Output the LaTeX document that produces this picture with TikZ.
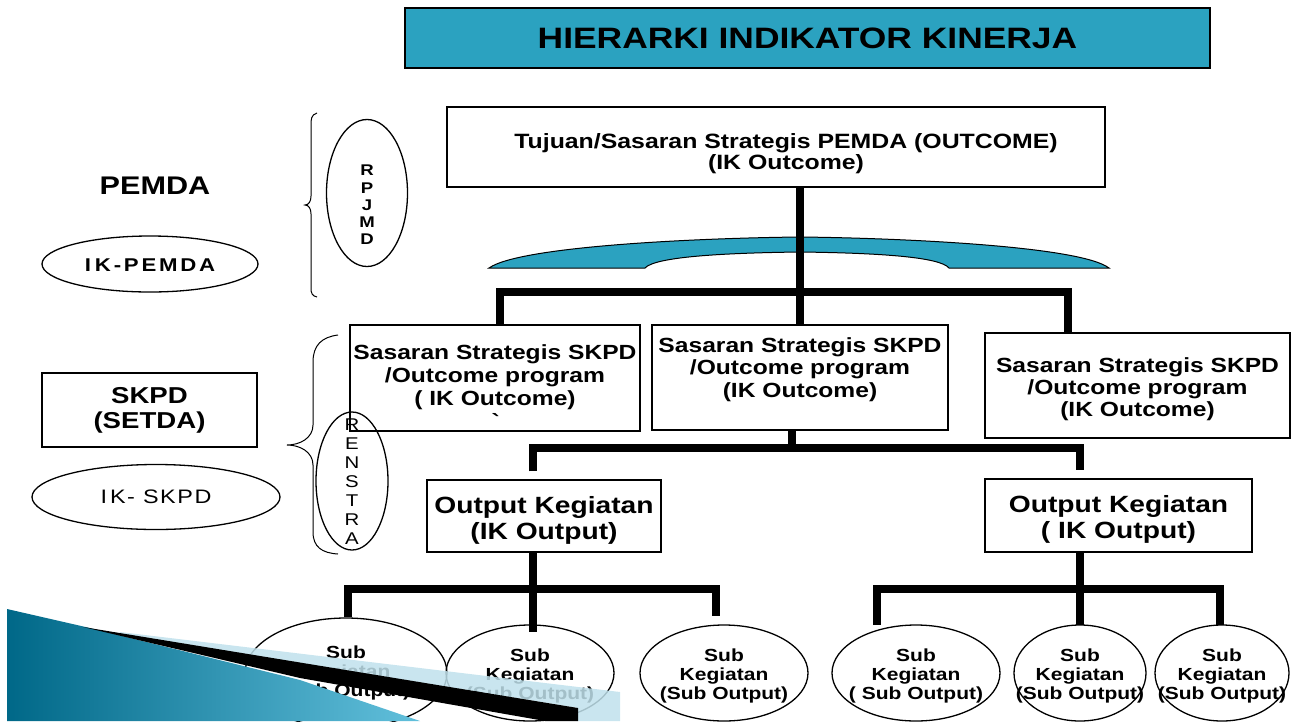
\documentclass[tikz,border=0pt]{standalone}
\usepackage{fontspec}
\setmainfont{Liberation Sans}[FakeStretch=1.2]
\usetikzlibrary{positioning,shapes.geometric}

\definecolor{birujudul}{RGB}{43,162,192}
\definecolor{birutua}{RGB}{0,104,136}
\definecolor{birumuda}{RGB}{98,192,220}
\definecolor{birupucat}{RGB}{192,225,236}

\newcommand{\huruf}[2]{\fontsize{#1}{#2}\selectfont}

\tikzset{
  kotak/.style={draw, rectangle, line width=1.3pt, inner sep=0pt, align=center},
  lonjong/.style={draw, ellipse, line width=1.3pt, inner sep=0pt},
  teks/.style={align=center, inner sep=0pt},
  garis/.style={line width=8pt},
  subkeg/.style 2 args={lonjong, minimum width=#1, minimum height=96,
    label={[teks, font=\bfseries\huruf{17.5}{19}, yshift=-3pt]center:{#2}}},
}

\begin{document}
\begin{tikzpicture}[x=1pt, y=-1pt]
    \useasboundingbox (0,0) rectangle (1304,721);
    \clip (0,0) rectangle (1304,721);

    % Judul
    \node[kotak, fill=birujudul, minimum width=805, minimum height=60, font=\bfseries\huruf{29.5}{32}] (judul) at (807.5,38) {HIERARKI INDIKATOR KINERJA};

    % Kolom kiri: PEMDA dan SKPD
    \node[font=\bfseries\huruf{25.5}{28}] (pemda) at (155,186) {PEMDA};
    \node[lonjong, minimum width=216, minimum height=56,
      label={[teks, font=\bfseries\huruf{18.5}{20}\addfontfeature{LetterSpace=15}, yshift=-1pt]center:I\hspace{4pt}K-PEMDA}] (ikpemda) at (150,264) {};
    \node[kotak, minimum width=215, minimum height=74, font=\bfseries\huruf{23}{25}] (skpd) at (149.5,410) {SKPD\\(SETDA)};
    \node[lonjong, minimum width=248, minimum height=65,
      label={[teks, font=\huruf{19.5}{21}\addfontfeature{LetterSpace=8}]center:I\hspace{3pt}K- SKPD}] (ikskpd) at (156,497) {};

    % Kurung kurawal dan dokumen
    \draw[line width=1pt] (317,113) .. controls (311,115) and (311,119) .. (311,126) -- (311,196)
        .. controls (311,201) and (309,205) .. (305,205) .. controls (309,205) and (311,209) .. (311,214)
        -- (311,288) .. controls (311,293) and (312,296) .. (317,297);
    \node[lonjong, minimum width=81, minimum height=147,
      label={[teks, font=\bfseries\huruf{15.5}{17.2}, yshift=-12pt]center:{R\\P\\J\\M\\D}}] (rpjmd) at (367,193) {};
    \draw[line width=1pt] (338,335) .. controls (322,337) and (313,345) .. (313,362) -- (313,425)
        .. controls (313,438) and (300,445) .. (287,445) .. controls (300,445) and (313,452) .. (313,465)
        -- (313,532) .. controls (313,547) and (322,553) .. (338,554);
    \node[lonjong, minimum width=72, minimum height=138,
      label={[teks, font=\huruf{17}{19}, yshift=-1pt]center:{R\\E\\N\\S\\T\\R\\A}}] (renstra) at (352,481) {};

    % Tujuan PEMDA
    \node[kotak, minimum width=658, minimum height=80,
      label={[teks, font=\bfseries\huruf{20.7}{21}, xshift=10pt, yshift=-6.5pt]center:{Tujuan/Sasaran Strategis PEMDA (OUTCOME)\\(IK Outcome)}}] (tujuan) at (776,147) {};
    \filldraw[fill=birujudul, draw=black, line width=1pt] (489,268) .. controls (520,246) and (700,238) .. (800,237)
        .. controls (900,238) and (1080,246) .. (1109,268) -- (949,268)
        .. controls (940,257) and (880,253) .. (800,252) .. controls (720,253) and (655,257) .. (645,268) -- cycle;

    % Sasaran SKPD
    \node[kotak, minimum width=290, minimum height=106,
      label={[teks, font=\bfseries\huruf{20.5}{23}, yshift=-9pt]center:{Sasaran Strategis SKPD\\/Outcome program\\( IK Outcome)\\\textasciigrave}}] (sasaran1) at (495,378) {};
    \node[kotak, minimum width=296, minimum height=105,
      label={[teks, font=\bfseries\huruf{20.5}{22.5}, yshift=8pt]center:{Sasaran Strategis SKPD\\/Outcome program\\(IK Outcome)}}] (sasaran2) at (800,377.5) {};
    \node[kotak, minimum width=305, minimum height=105,
      label={[teks, font=\bfseries\huruf{20.5}{22}, yshift=-4pt]center:{Sasaran Strategis SKPD\\/Outcome program\\(IK Outcome)}}] (sasaran3) at (1137.5,385.5) {};

    % Output kegiatan
    \node[kotak, minimum width=234, minimum height=72,
      label={[teks, font=\bfseries\huruf{23.5}{26}, yshift=-4pt]center:{Output Kegiatan\\(IK Output)}}] (output1) at (544,516) {};
    \node[kotak, minimum width=267, minimum height=73,
      label={[teks, font=\bfseries\huruf{23.5}{26}, yshift=-4pt]center:{Output Kegiatan\\( IK Output)}}] (output2) at (1118.5,515.5) {};

    % Sub kegiatan
    \node[lonjong, minimum width=202, minimum height=110,
      label={[teks, font=\bfseries\huruf{17.5}{19}]center:{Sub\\Kegiatan\\(Sub Output)}}] (sub1) at (346,673) {};
    \node[subkeg={168}{Sub\\Kegiatan\\(Sub Output)}] (sub2) at (530,673) {};
    \node[subkeg={168}{Sub\\Kegiatan\\(Sub Output)}] (sub3) at (724,673) {};
    \node[subkeg={168}{Sub\\Kegiatan\\( Sub Output)}] (sub4) at (916,673) {};
    \node[subkeg={132}{Sub\\Kegiatan\\(Sub Output)}] (sub5) at (1080,673) {};
    \node[subkeg={134}{Sub\\Kegiatan\\(Sub Output)}] (sub6) at (1222,673) {};

    % Garis hierarki
    \coordinate (bus1kiri) at (500,292);
    \coordinate (bus1kanan) at (1068,292);
    \coordinate (bus2tengah) at (792,448);
    \coordinate (bus2kiri) at (533,448);
    \coordinate (bus2kanan) at (1080,448);
    \coordinate (bus3tengah) at (533,632);
    \coordinate (ujung1) at (348,617);
    \coordinate (bus3kanan) at (716,589);
    \coordinate (ujung3) at (716,616);
    \coordinate (bus4tengah) at (1080,625);
    \coordinate (ujung4) at (877,625);
    \coordinate (bus4kanan) at (1220,589);
    \coordinate (ujung6) at (1220,625);

    \draw[garis] (tujuan.south -| sasaran2.north) -- (sasaran2.north);
    \draw[garis] (sasaran1.north -| bus1kiri) |- (bus1kanan) -- (sasaran3.north -| bus1kanan);
    \draw[garis] (sasaran2.south -| bus2tengah) -- (bus2tengah);
    \draw[garis, shorten <=8pt, shorten >=8pt] (output1.north -| bus2kiri) |- (bus2kanan) -- (output2.north -| bus2kanan);
    \draw[garis] (output1.south -| bus3tengah) -- (bus3tengah);
    \draw[garis] (ujung1) |- (bus3kanan) -- (ujung3);
    \draw[garis] (output2.south -| bus4tengah) -- (bus4tengah);
    \draw[garis] (ujung4) |- (bus4kanan) -- (ujung6);

    % Hiasan pojok kiri bawah
    \fill[birupucat, opacity=0.85] (120,632) -- (620,692) -- (620,721) -- (578,721) -- (578,708) -- (120,634) -- cycle;
    \shade[left color=birutua, right color=birumuda] (7,609) -- (90,628) -- (300,680) -- (420,721) -- (7,721) -- cycle;
    \fill[black] (83,627) -- (578,708) -- (578,721) -- (545,721) -- (300,678) -- cycle;
\end{tikzpicture}
\end{document}
